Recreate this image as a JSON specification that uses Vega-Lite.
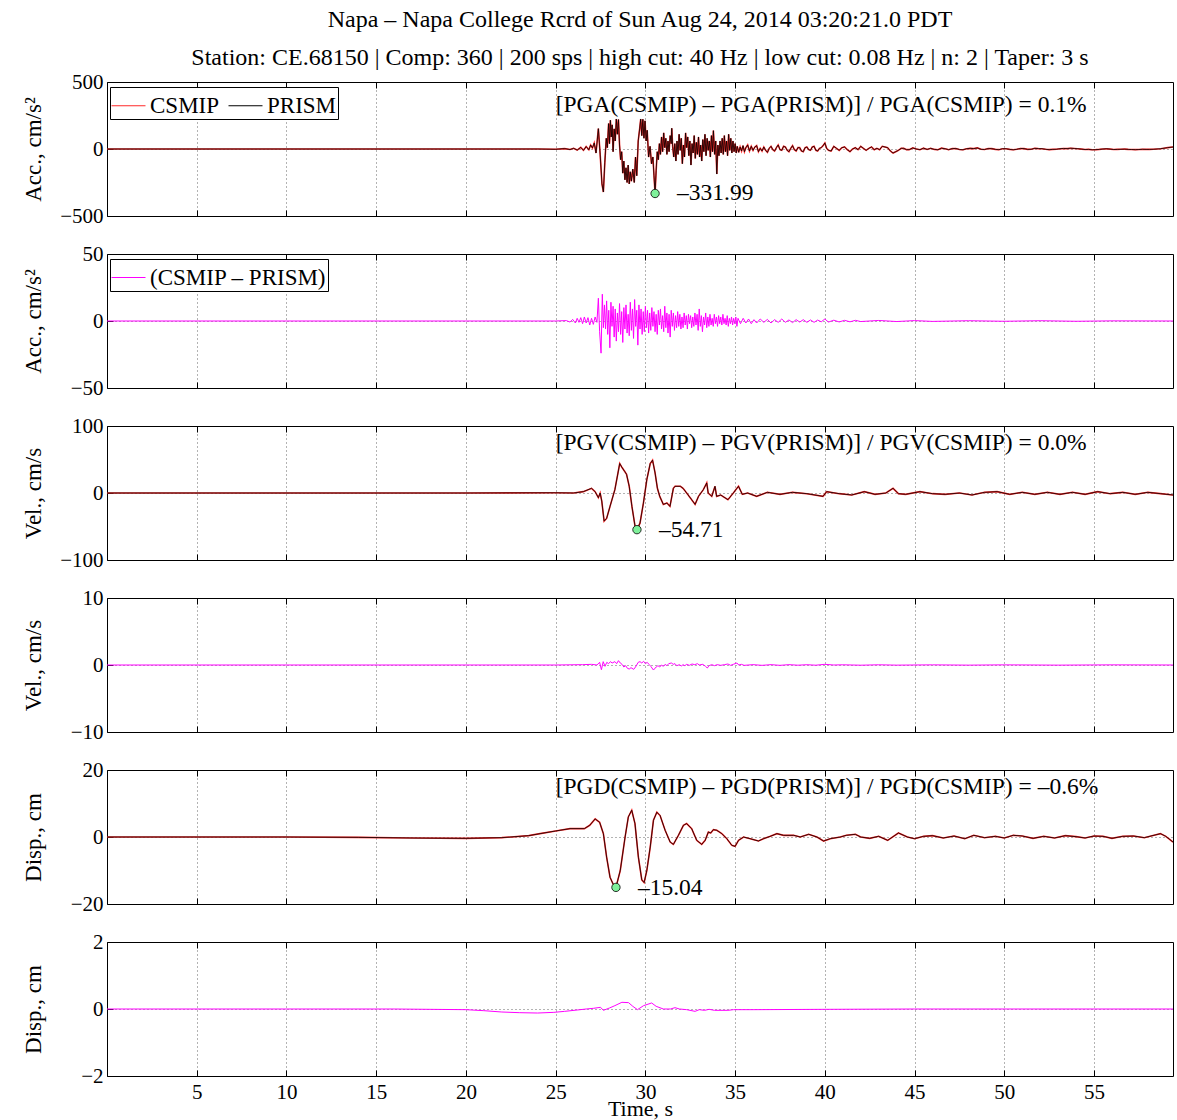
{
"$schema":"https://vega.github.io/schema/vega-lite/v6.json",
"padding":{"left":21,"top":7,"right":4,"bottom":2},
"spacing":38,
"bounds":"flush",
"resolve":{"scale":{"color":"independent","stroke":"independent"},"legend":{"color":"independent","stroke":"independent"}},
"config":{
 "font":"Liberation Serif",
 "view":{"stroke":"#000","strokeWidth":1},
 "axis":{"domain":false,"grid":true,"gridColor":"#000","gridDash":[1,3],"gridOpacity":0.6,"ticks":true,"tickColor":"#000","tickSize":-6,"tickWidth":1,"labelFont":"Liberation Serif","labelFontSize":21,"labelColor":"#000","labelPadding":10,"titleFont":"Liberation Serif","titleFontSize":23,"titleFontWeight":"normal","titleColor":"#000"},
 "axisY":{"titleX":-74,"titleY":67,"titleBaseline":"middle","labelPadding":10},
 "axisX":{"titleY":39,"titleBaseline":"alphabetic","titleFontSize":22,"labelPadding":11},
 "legend":{"title":null,"orient":"none","legendX":3,"legendY":5,"direction":"horizontal","padding":1,"strokeColor":"#000","fillColor":"#fff","labelFont":"Liberation Serif","labelFontSize":23,"labelColor":"#000","labelLimit":400,"symbolType":"stroke","symbolSize":1156,"symbolStrokeWidth":1,"columnPadding":6,"labelOffset":4,"cornerRadius":0},
 "text":{"font":"Liberation Serif","fontSize":23.5,"color":"#000"}
},
"datasets":{
"acc":[{"t":0,"v":0},{"t":10,"v":0},{"t":20,"v":0},{"t":24,"v":0},{"t":25,"v":-2},{"t":25.5,"v":3},{"t":25.8,"v":-4},{"t":26,"v":5},{"t":26.2,"v":-8},{"t":26.4,"v":12},{"t":26.55,"v":-10},{"t":26.7,"v":18},{"t":26.85,"v":-6},{"t":26.95,"v":30},{"t":27.05,"v":8},{"t":27.15,"v":45},{"t":27.25,"v":-30},{"t":27.38,"v":152},{"t":27.48,"v":-40},{"t":27.58,"v":-260},{"t":27.66,"v":-321},{"t":27.74,"v":-100},{"t":27.82,"v":80},{"t":27.88,"v":10},{"t":27.95,"v":190},{"t":28.0,"v":40},{"t":28.05,"v":215},{"t":28.1,"v":90},{"t":28.15,"v":180},{"t":28.2,"v":-20},{"t":28.26,"v":150},{"t":28.32,"v":60},{"t":28.38,"v":224},{"t":28.44,"v":110},{"t":28.5,"v":220},{"t":28.56,"v":30},{"t":28.62,"v":-80},{"t":28.68,"v":-20},{"t":28.74,"v":-180},{"t":28.8,"v":-90},{"t":28.86,"v":-230},{"t":28.92,"v":-140},{"t":28.98,"v":-250},{"t":29.04,"v":-120},{"t":29.1,"v":-260},{"t":29.16,"v":-170},{"t":29.22,"v":-240},{"t":29.3,"v":-150},{"t":29.38,"v":-250},{"t":29.45,"v":-60},{"t":29.52,"v":-200},{"t":29.6,"v":60},{"t":29.68,"v":150},{"t":29.74,"v":224},{"t":29.8,"v":100},{"t":29.86,"v":222},{"t":29.92,"v":80},{"t":29.98,"v":210},{"t":30.04,"v":60},{"t":30.1,"v":140},{"t":30.18,"v":-60},{"t":30.26,"v":20},{"t":30.34,"v":-110},{"t":30.42,"v":-60},{"t":30.48,"v":-200},{"t":30.54,"v":-332},{"t":30.6,"v":-160},{"t":30.66,"v":-20},{"t":30.72,"v":-80},{"t":30.78,"v":40},{"t":30.84,"v":-40},{"t":30.9,"v":90},{"t":30.96,"v":-20},{"t":31.02,"v":120},{"t":31.08,"v":10},{"t":31.14,"v":80},{"t":31.2,"v":-40},{"t":31.26,"v":60},{"t":31.32,"v":-20},{"t":31.38,"v":100},{"t":31.44,"v":40},{"t":31.47,"v":155},{"t":31.52,"v":20},{"t":31.58,"v":-60},{"t":31.64,"v":40},{"t":31.7,"v":-90},{"t":31.76,"v":60},{"t":31.82,"v":-40},{"t":31.88,"v":110},{"t":31.94,"v":-10},{"t":32.0,"v":80},{"t":32.06,"v":-110},{"t":32.12,"v":30},{"t":32.18,"v":-60},{"t":32.24,"v":120},{"t":32.3,"v":10},{"t":32.36,"v":90},{"t":32.42,"v":-50},{"t":32.48,"v":60},{"t":32.54,"v":-120},{"t":32.6,"v":40},{"t":32.66,"v":-30},{"t":32.72,"v":100},{"t":32.78,"v":-70},{"t":32.84,"v":50},{"t":32.9,"v":-40},{"t":32.96,"v":90},{"t":33.02,"v":-60},{"t":33.08,"v":30},{"t":33.14,"v":-90},{"t":33.2,"v":70},{"t":33.26,"v":-20},{"t":33.32,"v":110},{"t":33.38,"v":-50},{"t":33.44,"v":80},{"t":33.5,"v":-10},{"t":33.56,"v":60},{"t":33.62,"v":-60},{"t":33.68,"v":100},{"t":33.74,"v":-20},{"t":33.79,"v":137},{"t":33.86,"v":-40},{"t":33.92,"v":60},{"t":33.98,"v":-187},{"t":34.04,"v":30},{"t":34.1,"v":-50},{"t":34.16,"v":60},{"t":34.22,"v":-30},{"t":34.28,"v":80},{"t":34.34,"v":-40},{"t":34.4,"v":100},{"t":34.46,"v":-20},{"t":34.52,"v":60},{"t":34.58,"v":-50},{"t":34.64,"v":110},{"t":34.7,"v":-10},{"t":34.76,"v":80},{"t":34.82,"v":-30},{"t":34.88,"v":60},{"t":34.94,"v":-20},{"t":35.0,"v":40},{"t":35.06,"v":-30},{"t":35.12,"v":20},{"t":35.2,"v":-25},{"t":35.28,"v":15},{"t":35.36,"v":-15},{"t":35.44,"v":25},{"t":35.52,"v":-20},{"t":35.6,"v":10},{"t":35.7,"v":30},{"t":35.8,"v":-15},{"t":35.9,"v":20},{"t":36.0,"v":-10},{"t":36.1,"v":15},{"t":36.2,"v":25},{"t":36.3,"v":-20},{"t":36.4,"v":5},{"t":36.5,"v":-15},{"t":36.6,"v":15},{"t":36.7,"v":-10},{"t":36.8,"v":-25},{"t":36.9,"v":5},{"t":37.0,"v":20},{"t":37.1,"v":-5},{"t":37.2,"v":-15},{"t":37.3,"v":10},{"t":37.4,"v":30},{"t":37.5,"v":-5},{"t":37.6,"v":-10},{"t":37.7,"v":20},{"t":37.8,"v":15},{"t":37.9,"v":-10},{"t":38.0,"v":-20},{"t":38.1,"v":5},{"t":38.2,"v":25},{"t":38.3,"v":-5},{"t":38.4,"v":-15},{"t":38.5,"v":10},{"t":38.6,"v":10},{"t":38.7,"v":-15},{"t":38.8,"v":-20},{"t":38.9,"v":10},{"t":39.0,"v":15},{"t":39.1,"v":-5},{"t":39.2,"v":-10},{"t":39.3,"v":15},{"t":39.4,"v":20},{"t":39.5,"v":-10},{"t":39.6,"v":-15},{"t":39.7,"v":5},{"t":39.8,"v":10},{"t":39.9,"v":25},{"t":40.0,"v":45},{"t":40.1,"v":5},{"t":40.2,"v":-10},{"t":40.35,"v":-15},{"t":40.5,"v":20},{"t":40.65,"v":5},{"t":40.8,"v":-10},{"t":40.95,"v":10},{"t":41.1,"v":15},{"t":41.25,"v":-5},{"t":41.4,"v":-20},{"t":41.55,"v":0},{"t":41.7,"v":10},{"t":41.85,"v":-5},{"t":42.0,"v":20},{"t":42.15,"v":5},{"t":42.3,"v":-10},{"t":42.45,"v":5},{"t":42.6,"v":15},{"t":42.75,"v":-5},{"t":42.9,"v":5},{"t":43.05,"v":-5},{"t":43.2,"v":20},{"t":43.35,"v":15},{"t":43.5,"v":10},{"t":43.65,"v":-15},{"t":43.8,"v":-30},{"t":43.95,"v":-20},{"t":44.1,"v":-10},{"t":44.25,"v":5},{"t":44.4,"v":5},{"t":44.55,"v":-5},{"t":44.7,"v":-5},{"t":44.9,"v":8},{"t":45.1,"v":0},{"t":45.3,"v":-5},{"t":45.5,"v":6},{"t":45.7,"v":-3},{"t":45.9,"v":5},{"t":46.1,"v":-3},{"t":46.3,"v":-6},{"t":46.5,"v":6},{"t":46.7,"v":2},{"t":46.9,"v":-5},{"t":47.1,"v":3},{"t":47.3,"v":4},{"t":47.5,"v":-4},{"t":47.7,"v":-6},{"t":47.9,"v":2},{"t":48.1,"v":5},{"t":48.3,"v":3},{"t":48.5,"v":8},{"t":48.7,"v":-2},{"t":48.9,"v":-4},{"t":49.1,"v":3},{"t":49.3,"v":3},{"t":49.5,"v":-3},{"t":49.7,"v":-5},{"t":49.9,"v":2},{"t":50.1,"v":2},{"t":50.3,"v":-3},{"t":50.5,"v":-6},{"t":50.7,"v":-2},{"t":50.9,"v":4},{"t":51.1,"v":3},{"t":51.3,"v":-3},{"t":51.5,"v":-2},{"t":51.7,"v":5},{"t":51.9,"v":3},{"t":52.1,"v":2},{"t":52.3,"v":-2},{"t":52.5,"v":-5},{"t":52.7,"v":-3},{"t":52.9,"v":-2},{"t":53.1,"v":2},{"t":53.3,"v":4},{"t":53.5,"v":3},{"t":53.7,"v":6},{"t":53.9,"v":4},{"t":54.1,"v":2},{"t":54.3,"v":-1},{"t":54.5,"v":-4},{"t":54.7,"v":-3},{"t":54.9,"v":-6},{"t":55.1,"v":-5},{"t":55.3,"v":-3},{"t":55.5,"v":0},{"t":55.7,"v":2},{"t":55.9,"v":-1},{"t":56.1,"v":-4},{"t":56.3,"v":-3},{"t":56.5,"v":-2},{"t":56.7,"v":-1},{"t":56.9,"v":-3},{"t":57.1,"v":-4},{"t":57.3,"v":-5},{"t":57.5,"v":-4},{"t":57.7,"v":-2},{"t":57.9,"v":-3},{"t":58.1,"v":-3},{"t":58.3,"v":-2},{"t":58.5,"v":0},{"t":58.7,"v":2},{"t":58.9,"v":6},{"t":59.1,"v":10},{"t":59.4,"v":15}],
"dacc":[{"t":0,"v":0},{"t":10,"v":0},{"t":20,"v":0},{"t":25,"v":0},{"t":25.6,"v":0.3},{"t":25.8,"v":-0.8},{"t":25.95,"v":1.2},{"t":26.1,"v":-1.5},{"t":26.2,"v":2},{"t":26.3,"v":-1},{"t":26.4,"v":2.5},{"t":26.5,"v":-2},{"t":26.6,"v":3},{"t":26.7,"v":-1.5},{"t":26.8,"v":2.5},{"t":26.9,"v":-3},{"t":27.0,"v":2},{"t":27.1,"v":-2.5},{"t":27.2,"v":3},{"t":27.3,"v":-1},{"t":27.38,"v":17},{"t":27.45,"v":-8},{"t":27.53,"v":-24},{"t":27.6,"v":20},{"t":27.66,"v":-5},{"t":27.72,"v":12},{"t":27.78,"v":-6},{"t":27.84,"v":15},{"t":27.9,"v":-10},{"t":27.96,"v":8},{"t":28.02,"v":-20},{"t":28.08,"v":14},{"t":28.14,"v":-4},{"t":28.2,"v":11},{"t":28.26,"v":-12},{"t":28.32,"v":9},{"t":28.38,"v":-15},{"t":28.44,"v":6},{"t":28.5,"v":-8},{"t":28.56,"v":13},{"t":28.62,"v":-10},{"t":28.68,"v":7},{"t":28.74,"v":-16},{"t":28.8,"v":10},{"t":28.86,"v":-6},{"t":28.92,"v":12},{"t":28.98,"v":-9},{"t":29.04,"v":5},{"t":29.1,"v":-11},{"t":29.16,"v":14},{"t":29.22,"v":-7},{"t":29.28,"v":9},{"t":29.34,"v":-13},{"t":29.4,"v":16},{"t":29.46,"v":-4},{"t":29.52,"v":8},{"t":29.58,"v":-18},{"t":29.64,"v":12},{"t":29.7,"v":-6},{"t":29.76,"v":9},{"t":29.82,"v":-10},{"t":29.88,"v":7},{"t":29.94,"v":-8},{"t":30.0,"v":11},{"t":30.06,"v":-5},{"t":30.12,"v":8},{"t":30.18,"v":-9},{"t":30.24,"v":6},{"t":30.3,"v":-7},{"t":30.36,"v":10},{"t":30.42,"v":-4},{"t":30.48,"v":7},{"t":30.54,"v":-8},{"t":30.6,"v":5},{"t":30.66,"v":-10},{"t":30.72,"v":8},{"t":30.78,"v":-3},{"t":30.84,"v":9},{"t":30.9,"v":-6},{"t":30.96,"v":4},{"t":31.02,"v":-8},{"t":31.08,"v":11},{"t":31.14,"v":-5},{"t":31.2,"v":6},{"t":31.26,"v":-9},{"t":31.32,"v":5},{"t":31.38,"v":-12},{"t":31.44,"v":8},{"t":31.5,"v":-4},{"t":31.56,"v":6},{"t":31.62,"v":-7},{"t":31.68,"v":4},{"t":31.74,"v":-5},{"t":31.8,"v":7},{"t":31.86,"v":-4},{"t":31.92,"v":5},{"t":31.98,"v":-6},{"t":32.04,"v":3},{"t":32.1,"v":-5},{"t":32.16,"v":6},{"t":32.22,"v":-3},{"t":32.28,"v":4},{"t":32.34,"v":-6},{"t":32.4,"v":5},{"t":32.46,"v":-2},{"t":32.52,"v":4},{"t":32.58,"v":-5},{"t":32.64,"v":3},{"t":32.7,"v":-4},{"t":32.76,"v":6},{"t":32.82,"v":-3},{"t":32.88,"v":5},{"t":32.94,"v":-7},{"t":33.0,"v":9},{"t":33.06,"v":-4},{"t":33.12,"v":4},{"t":33.18,"v":-8},{"t":33.24,"v":3},{"t":33.3,"v":-3},{"t":33.36,"v":6},{"t":33.42,"v":-5},{"t":33.48,"v":3},{"t":33.54,"v":-4},{"t":33.6,"v":5},{"t":33.66,"v":-3},{"t":33.72,"v":2},{"t":33.78,"v":-4},{"t":33.84,"v":5},{"t":33.9,"v":-2},{"t":33.96,"v":3},{"t":34.02,"v":-4},{"t":34.08,"v":4},{"t":34.14,"v":-2},{"t":34.2,"v":3},{"t":34.26,"v":-3},{"t":34.32,"v":5},{"t":34.38,"v":-2},{"t":34.44,"v":2},{"t":34.5,"v":-3},{"t":34.56,"v":4},{"t":34.62,"v":-4},{"t":34.68,"v":2},{"t":34.74,"v":-2},{"t":34.8,"v":3},{"t":34.86,"v":-3},{"t":34.92,"v":2},{"t":34.98,"v":-2},{"t":35.04,"v":3},{"t":35.1,"v":-4},{"t":35.16,"v":2},{"t":35.3,"v":-2},{"t":35.45,"v":2},{"t":35.6,"v":-1.5},{"t":35.75,"v":1.5},{"t":35.9,"v":-2},{"t":36.05,"v":1},{"t":36.2,"v":-1.5},{"t":36.4,"v":1.5},{"t":36.6,"v":-1},{"t":36.8,"v":1.2},{"t":37.0,"v":-1.5},{"t":37.2,"v":1},{"t":37.4,"v":-1},{"t":37.6,"v":1.5},{"t":37.8,"v":-1},{"t":38.0,"v":0.8},{"t":38.2,"v":-1.2},{"t":38.4,"v":1},{"t":38.6,"v":-0.8},{"t":38.8,"v":1},{"t":39.0,"v":-1},{"t":39.2,"v":0.8},{"t":39.4,"v":-1},{"t":39.6,"v":0.7},{"t":39.8,"v":-0.6},{"t":40.0,"v":1.5},{"t":40.2,"v":-0.8},{"t":40.5,"v":0.6},{"t":40.8,"v":-0.7},{"t":41.1,"v":0.5},{"t":41.4,"v":-0.6},{"t":41.7,"v":0.5},{"t":42,"v":-0.4},{"t":43,"v":0.4},{"t":44,"v":-0.4},{"t":45,"v":0.3},{"t":46,"v":-0.3},{"t":48,"v":0.2},{"t":50,"v":-0.2},{"t":52,"v":0.2},{"t":54,"v":-0.2},{"t":56,"v":0.1},{"t":59.4,"v":0}],
"vel":[{"t":0,"v":0},{"t":20,"v":0},{"t":25,"v":0.3},{"t":26,"v":0},{"t":26.54,"v":2},{"t":27.0,"v":7},{"t":27.2,"v":2},{"t":27.38,"v":-7},{"t":27.48,"v":0},{"t":27.57,"v":-12},{"t":27.7,"v":-42},{"t":27.84,"v":-38},{"t":28.03,"v":-20},{"t":28.3,"v":5},{"t":28.57,"v":44},{"t":28.7,"v":38},{"t":28.85,"v":32},{"t":28.95,"v":28},{"t":29.1,"v":10},{"t":29.25,"v":-20},{"t":29.42,"v":-49},{"t":29.53,"v":-54.71},{"t":29.7,"v":-45},{"t":29.89,"v":-15},{"t":30.08,"v":20},{"t":30.27,"v":44},{"t":30.4,"v":49},{"t":30.54,"v":30},{"t":30.67,"v":7},{"t":30.8,"v":-5},{"t":31.0,"v":-17},{"t":31.2,"v":-15},{"t":31.37,"v":-20},{"t":31.56,"v":7},{"t":31.65,"v":10},{"t":31.95,"v":10},{"t":32.1,"v":7},{"t":32.3,"v":0},{"t":32.58,"v":-10},{"t":32.77,"v":-17},{"t":32.96,"v":-5},{"t":33.23,"v":5},{"t":33.42,"v":15},{"t":33.5,"v":0},{"t":33.7,"v":-5},{"t":33.88,"v":10},{"t":33.97,"v":-5},{"t":34.2,"v":-3},{"t":34.6,"v":-10},{"t":34.9,"v":0},{"t":35.1,"v":7},{"t":35.19,"v":10},{"t":35.4,"v":-2},{"t":35.7,"v":0},{"t":36.2,"v":-5},{"t":36.8,"v":1},{"t":37.5,"v":-2},{"t":38.2,"v":1},{"t":39.0,"v":-1},{"t":39.9,"v":-5},{"t":40.1,"v":2},{"t":40.8,"v":-1},{"t":41.5,"v":-3},{"t":42.2,"v":2},{"t":42.8,"v":-2},{"t":43.4,"v":0},{"t":43.8,"v":7},{"t":44.1,"v":-1},{"t":44.5,"v":-2},{"t":45.3,"v":2},{"t":46.0,"v":-1},{"t":46.7,"v":-2},{"t":47.5,"v":0},{"t":48.2,"v":-3},{"t":48.9,"v":1},{"t":49.6,"v":2},{"t":50.3,"v":-2},{"t":51.0,"v":1},{"t":51.7,"v":-2},{"t":52.4,"v":1},{"t":53.1,"v":-2},{"t":53.8,"v":1},{"t":54.5,"v":-2},{"t":55.2,"v":2},{"t":55.9,"v":-1},{"t":56.6,"v":1},{"t":57.3,"v":-2},{"t":58.0,"v":1},{"t":58.7,"v":-1},{"t":59.4,"v":-3}],
"dvel":[{"t":0,"v":0},{"t":25,"v":0},{"t":26.5,"v":0.05},{"t":27.0,"v":0.1},{"t":27.3,"v":0},{"t":27.45,"v":0.4},{"t":27.55,"v":-0.7},{"t":27.65,"v":0.5},{"t":27.75,"v":-0.2},{"t":27.85,"v":0.4},{"t":27.95,"v":0.2},{"t":28.05,"v":0.5},{"t":28.15,"v":0.3},{"t":28.3,"v":0.5},{"t":28.4,"v":0.2},{"t":28.5,"v":0.65},{"t":28.6,"v":0.3},{"t":28.7,"v":0.1},{"t":28.8,"v":-0.3},{"t":28.9,"v":-0.1},{"t":29.0,"v":-0.5},{"t":29.1,"v":-0.6},{"t":29.2,"v":-0.4},{"t":29.35,"v":-0.65},{"t":29.45,"v":-0.3},{"t":29.6,"v":0.4},{"t":29.7,"v":0.5},{"t":29.8,"v":0.3},{"t":29.9,"v":0.55},{"t":30.0,"v":0.2},{"t":30.1,"v":0.4},{"t":30.2,"v":0.1},{"t":30.3,"v":-0.2},{"t":30.45,"v":-0.75},{"t":30.6,"v":-0.3},{"t":30.7,"v":-0.1},{"t":30.8,"v":-0.3},{"t":30.9,"v":0},{"t":31.0,"v":-0.2},{"t":31.1,"v":0.1},{"t":31.2,"v":-0.1},{"t":31.3,"v":0.2},{"t":31.45,"v":0.3},{"t":31.55,"v":0.1},{"t":31.65,"v":0.2},{"t":31.75,"v":-0.1},{"t":31.9,"v":0.05},{"t":32.0,"v":-0.15},{"t":32.1,"v":0.05},{"t":32.2,"v":-0.1},{"t":32.3,"v":0.1},{"t":32.45,"v":-0.05},{"t":32.6,"v":0.15},{"t":32.75,"v":0.05},{"t":32.9,"v":0.2},{"t":33.0,"v":0},{"t":33.2,"v":0.1},{"t":33.35,"v":-0.2},{"t":33.45,"v":-0.45},{"t":33.55,"v":-0.1},{"t":33.7,"v":0.05},{"t":33.85,"v":-0.1},{"t":34.0,"v":0.05},{"t":34.2,"v":-0.05},{"t":34.4,"v":0.05},{"t":34.6,"v":0.15},{"t":34.75,"v":-0.05},{"t":34.9,"v":0.1},{"t":35.1,"v":0.3},{"t":35.2,"v":0},{"t":35.35,"v":0.1},{"t":35.5,"v":-0.05},{"t":36,"v":0.05},{"t":36.5,"v":-0.05},{"t":37,"v":0.05},{"t":37.5,"v":-0.05},{"t":38,"v":0.05},{"t":38.5,"v":-0.03},{"t":39,"v":0.04},{"t":39.5,"v":-0.03},{"t":40,"v":0.1},{"t":40.5,"v":0},{"t":41,"v":0.03},{"t":42,"v":-0.03},{"t":43,"v":0.03},{"t":44,"v":-0.02},{"t":46,"v":0.02},{"t":48,"v":-0.02},{"t":50,"v":0.02},{"t":53,"v":-0.02},{"t":56,"v":0.02},{"t":59.4,"v":0}],
"disp":[{"t":0,"v":0},{"t":5,"v":0},{"t":10,"v":0},{"t":14,"v":-0.1},{"t":17,"v":-0.3},{"t":20,"v":-0.4},{"t":22,"v":-0.2},{"t":23.5,"v":0.4},{"t":24.13,"v":1},{"t":25,"v":1.8},{"t":25.8,"v":2.5},{"t":26.6,"v":2.5},{"t":26.9,"v":3.5},{"t":27.2,"v":5.4},{"t":27.45,"v":4.4},{"t":27.66,"v":1},{"t":27.84,"v":-6},{"t":28.03,"v":-12},{"t":28.22,"v":-14.3},{"t":28.36,"v":-15.04},{"t":28.6,"v":-10},{"t":28.87,"v":0},{"t":29.05,"v":6},{"t":29.24,"v":8},{"t":29.42,"v":4},{"t":29.61,"v":-6},{"t":29.8,"v":-12.8},{"t":29.93,"v":-13.6},{"t":30.08,"v":-10},{"t":30.27,"v":-3},{"t":30.45,"v":5},{"t":30.64,"v":7.4},{"t":30.82,"v":6.4},{"t":31.1,"v":2},{"t":31.38,"v":-1.5},{"t":31.56,"v":-2.2},{"t":31.84,"v":0.5},{"t":32.12,"v":3.5},{"t":32.3,"v":4},{"t":32.58,"v":2.5},{"t":32.86,"v":-1},{"t":33.14,"v":-2.2},{"t":33.33,"v":-1},{"t":33.51,"v":1.5},{"t":33.64,"v":1.2},{"t":33.79,"v":2.2},{"t":33.98,"v":2},{"t":34.26,"v":1},{"t":34.54,"v":-0.5},{"t":34.82,"v":-2.5},{"t":35.0,"v":-2.8},{"t":35.19,"v":-1},{"t":35.47,"v":0},{"t":35.84,"v":-0.5},{"t":36.3,"v":-1.2},{"t":36.58,"v":-0.5},{"t":36.96,"v":0.2},{"t":37.33,"v":1},{"t":37.7,"v":0.5},{"t":38.26,"v":0.5},{"t":38.63,"v":0},{"t":39.1,"v":0.8},{"t":39.56,"v":0},{"t":39.93,"v":-1.2},{"t":40.3,"v":-0.5},{"t":40.86,"v":0},{"t":41.2,"v":0.5},{"t":41.7,"v":0.8},{"t":42.0,"v":0},{"t":42.5,"v":-0.4},{"t":43.0,"v":0.2},{"t":43.5,"v":-1},{"t":44.1,"v":1.2},{"t":44.6,"v":0},{"t":45.0,"v":-0.5},{"t":45.5,"v":0.2},{"t":46.0,"v":0.4},{"t":46.6,"v":-0.3},{"t":47.2,"v":0.3},{"t":47.8,"v":-0.5},{"t":48.3,"v":0.5},{"t":48.9,"v":-0.2},{"t":49.5,"v":0.2},{"t":50.0,"v":-0.3},{"t":50.5,"v":0.5},{"t":51.0,"v":0.3},{"t":51.6,"v":-0.4},{"t":52.2,"v":0.2},{"t":52.8,"v":-0.3},{"t":53.4,"v":0.4},{"t":54.0,"v":0.1},{"t":54.5,"v":-0.3},{"t":55.0,"v":0.3},{"t":55.5,"v":0.2},{"t":56.0,"v":-0.4},{"t":56.6,"v":0.2},{"t":57.2,"v":0.3},{"t":57.8,"v":-0.2},{"t":58.4,"v":0.6},{"t":58.7,"v":1},{"t":59.0,"v":0.2},{"t":59.4,"v":-1.5}],
"ddisp":[{"t":0,"v":0},{"t":10,"v":0},{"t":16,"v":0},{"t":18,"v":-0.01},{"t":20,"v":-0.02},{"t":21,"v":-0.05},{"t":22,"v":-0.09},{"t":23,"v":-0.11},{"t":24,"v":-0.12},{"t":24.9,"v":-0.1},{"t":25.5,"v":-0.07},{"t":26.2,"v":-0.03},{"t":26.7,"v":0},{"t":27.1,"v":0.02},{"t":27.5,"v":0.05},{"t":27.66,"v":-0.04},{"t":28.0,"v":0.03},{"t":28.3,"v":0.1},{"t":28.69,"v":0.2},{"t":29.06,"v":0.19},{"t":29.3,"v":0.08},{"t":29.56,"v":-0.02},{"t":29.9,"v":0.1},{"t":30.35,"v":0.18},{"t":30.6,"v":0.08},{"t":31.0,"v":0},{"t":31.4,"v":0},{"t":31.65,"v":0.04},{"t":31.9,"v":0},{"t":32.3,"v":-0.02},{"t":32.77,"v":-0.07},{"t":33.0,"v":-0.02},{"t":33.3,"v":-0.04},{"t":33.55,"v":-0.01},{"t":33.85,"v":-0.04},{"t":34.6,"v":-0.04},{"t":34.91,"v":-0.02},{"t":36,"v":-0.02},{"t":40,"v":-0.01},{"t":45,"v":0},{"t":59.4,"v":0}]
},
"vconcat":[
{"width":1066,"height":134,
 "title":{"text":["Napa – Napa College Rcrd of Sun Aug 24, 2014 03:20:21.0 PDT","Station: CE.68150 | Comp: 360 | 200 sps | high cut: 40 Hz | low cut: 0.08 Hz | n: 2 | Taper: 3 s"],"font":"Liberation Serif","fontSize":24,"fontWeight":"normal","color":"#000","lineHeight":38,"offset":1,"anchor":"middle","frame":"group"},
 "resolve":{"axis":{"x":"independent"}},
 "encoding":{
  "x":{"field":"t","type":"quantitative","scale":{"domain":[0,59.4],"nice":false,"zero":false},"axis":null},
  "y":{"field":"v","type":"quantitative","scale":{"domain":[-500,500],"nice":false},"axis":{"values":[-500,0,500],"title":"Acc., cm/s²"}}},
 "layer":[
  {"data":{"values":[]},"mark":{"type":"point"},"encoding":{"x":{"field":"t","type":"quantitative","scale":{"domain":[0,59.4],"nice":false,"zero":false},"axis":{"values":[5,10,15,20,25,30,35,40,45,50,55],"labels":false,"title":null}}}},
  {"data":{"values":[]},"mark":{"type":"point"},"encoding":{"x":{"field":"t","type":"quantitative","scale":{"domain":[0,59.4],"nice":false,"zero":false},"axis":{"orient":"top","values":[5,10,15,20,25,30,35,40,45,50,55],"labels":false,"title":null,"grid":false}}}},
  {"data":{"name":"acc"},"mark":{"type":"line","strokeWidth":1.6,"clip":true},"encoding":{"color":{"datum":"CSMIP","type":"nominal","scale":{"domain":["CSMIP","PRISM"],"range":["#ff2a2a","#000000"]}}}},
  {"data":{"name":"acc"},"mark":{"type":"line","strokeWidth":0.8,"clip":true},"encoding":{"color":{"datum":"PRISM","type":"nominal"}}},
  {"data":{"values":[{"t":25,"v":328,"label":"[PGA(CSMIP) – PGA(PRISM)] / PGA(CSMIP) = 0.1%"}]},"mark":{"type":"text","align":"left","baseline":"middle"},"encoding":{"text":{"field":"label"}}},
  {"data":{"values":[{"t":30.54,"v":-331.99,"label":"–331.99"}]},"mark":{"type":"point","filled":true,"fill":"#7ff09a","stroke":"#000","strokeWidth":0.8,"size":70,"opacity":1}},
  {"data":{"values":[{"t":30.54,"v":-331.99,"label":"–331.99"}]},"mark":{"type":"text","align":"left","baseline":"middle","dx":22},"encoding":{"text":{"field":"label"}}}
 ]},
{"width":1066,"height":134,
 "resolve":{"axis":{"x":"independent"}},
 "encoding":{
  "x":{"field":"t","type":"quantitative","scale":{"domain":[0,59.4],"nice":false,"zero":false},"axis":null},
  "y":{"field":"v","type":"quantitative","scale":{"domain":[-50,50],"nice":false},"axis":{"values":[-50,0,50],"title":"Acc., cm/s²"}}},
 "layer":[
  {"data":{"values":[]},"mark":{"type":"point"},"encoding":{"x":{"field":"t","type":"quantitative","scale":{"domain":[0,59.4],"nice":false,"zero":false},"axis":{"values":[5,10,15,20,25,30,35,40,45,50,55],"labels":false,"title":null}}}},
  {"data":{"values":[]},"mark":{"type":"point"},"encoding":{"x":{"field":"t","type":"quantitative","scale":{"domain":[0,59.4],"nice":false,"zero":false},"axis":{"orient":"top","values":[5,10,15,20,25,30,35,40,45,50,55],"labels":false,"title":null,"grid":false}}}},
  {"data":{"name":"dacc"},"mark":{"type":"line","strokeWidth":1,"clip":true},"encoding":{"stroke":{"datum":"(CSMIP – PRISM)","type":"nominal","scale":{"domain":["(CSMIP – PRISM)"],"range":["#ff00ff"]},"legend":{"symbolStrokeColor":"#ff00ff","symbolStrokeWidth":1}}}}
 ]},
{"width":1066,"height":134,
 "resolve":{"axis":{"x":"independent"}},
 "encoding":{
  "x":{"field":"t","type":"quantitative","scale":{"domain":[0,59.4],"nice":false,"zero":false},"axis":null},
  "y":{"field":"v","type":"quantitative","scale":{"domain":[-100,100],"nice":false},"axis":{"values":[-100,0,100],"title":"Vel., cm/s"}}},
 "layer":[
  {"data":{"values":[]},"mark":{"type":"point"},"encoding":{"x":{"field":"t","type":"quantitative","scale":{"domain":[0,59.4],"nice":false,"zero":false},"axis":{"values":[5,10,15,20,25,30,35,40,45,50,55],"labels":false,"title":null}}}},
  {"data":{"values":[]},"mark":{"type":"point"},"encoding":{"x":{"field":"t","type":"quantitative","scale":{"domain":[0,59.4],"nice":false,"zero":false},"axis":{"orient":"top","values":[5,10,15,20,25,30,35,40,45,50,55],"labels":false,"title":null,"grid":false}}}},
  {"data":{"name":"vel"},"mark":{"type":"line","strokeWidth":1.6,"color":"#ff2a2a","clip":true}},
  {"data":{"name":"vel"},"mark":{"type":"line","strokeWidth":0.8,"color":"#000","clip":true}},
  {"data":{"values":[{"t":25,"v":74,"label":"[PGV(CSMIP) – PGV(PRISM)] / PGV(CSMIP) = 0.0%"}]},"mark":{"type":"text","align":"left","baseline":"middle"},"encoding":{"text":{"field":"label"}}},
  {"data":{"values":[{"t":29.53,"v":-54.71,"label":"–54.71"}]},"mark":{"type":"point","filled":true,"fill":"#7ff09a","stroke":"#000","strokeWidth":0.8,"size":70,"opacity":1}},
  {"data":{"values":[{"t":29.53,"v":-54.71,"label":"–54.71"}]},"mark":{"type":"text","align":"left","baseline":"middle","dx":22},"encoding":{"text":{"field":"label"}}}
 ]},
{"width":1066,"height":134,
 "resolve":{"axis":{"x":"independent"}},
 "encoding":{
  "x":{"field":"t","type":"quantitative","scale":{"domain":[0,59.4],"nice":false,"zero":false},"axis":null},
  "y":{"field":"v","type":"quantitative","scale":{"domain":[-10,10],"nice":false},"axis":{"values":[-10,0,10],"title":"Vel., cm/s"}}},
 "layer":[
  {"data":{"values":[]},"mark":{"type":"point"},"encoding":{"x":{"field":"t","type":"quantitative","scale":{"domain":[0,59.4],"nice":false,"zero":false},"axis":{"values":[5,10,15,20,25,30,35,40,45,50,55],"labels":false,"title":null}}}},
  {"data":{"values":[]},"mark":{"type":"point"},"encoding":{"x":{"field":"t","type":"quantitative","scale":{"domain":[0,59.4],"nice":false,"zero":false},"axis":{"orient":"top","values":[5,10,15,20,25,30,35,40,45,50,55],"labels":false,"title":null,"grid":false}}}},
  {"data":{"name":"dvel"},"mark":{"type":"line","strokeWidth":1,"color":"#ff00ff","clip":true}}
 ]},
{"width":1066,"height":134,
 "resolve":{"axis":{"x":"independent"}},
 "encoding":{
  "x":{"field":"t","type":"quantitative","scale":{"domain":[0,59.4],"nice":false,"zero":false},"axis":null},
  "y":{"field":"v","type":"quantitative","scale":{"domain":[-20,20],"nice":false},"axis":{"values":[-20,0,20],"title":"Disp., cm"}}},
 "layer":[
  {"data":{"values":[]},"mark":{"type":"point"},"encoding":{"x":{"field":"t","type":"quantitative","scale":{"domain":[0,59.4],"nice":false,"zero":false},"axis":{"values":[5,10,15,20,25,30,35,40,45,50,55],"labels":false,"title":null}}}},
  {"data":{"values":[]},"mark":{"type":"point"},"encoding":{"x":{"field":"t","type":"quantitative","scale":{"domain":[0,59.4],"nice":false,"zero":false},"axis":{"orient":"top","values":[5,10,15,20,25,30,35,40,45,50,55],"labels":false,"title":null,"grid":false}}}},
  {"data":{"name":"disp"},"mark":{"type":"line","strokeWidth":1.6,"color":"#ff2a2a","clip":true}},
  {"data":{"name":"disp"},"mark":{"type":"line","strokeWidth":0.8,"color":"#000","clip":true}},
  {"data":{"values":[{"t":25,"v":15,"label":"[PGD(CSMIP) – PGD(PRISM)] / PGD(CSMIP) = –0.6%"}]},"mark":{"type":"text","align":"left","baseline":"middle"},"encoding":{"text":{"field":"label"}}},
  {"data":{"values":[{"t":28.36,"v":-15.04,"label":"–15.04"}]},"mark":{"type":"point","filled":true,"fill":"#7ff09a","stroke":"#000","strokeWidth":0.8,"size":70,"opacity":1}},
  {"data":{"values":[{"t":28.36,"v":-15.04,"label":"–15.04"}]},"mark":{"type":"text","align":"left","baseline":"middle","dx":22,"dy":1},"encoding":{"text":{"field":"label"}}}
 ]},
{"width":1066,"height":134,
 "resolve":{"axis":{"x":"independent"}},
 "encoding":{
  "x":{"field":"t","type":"quantitative","scale":{"domain":[0,59.4],"nice":false,"zero":false},"axis":null},
  "y":{"field":"v","type":"quantitative","scale":{"domain":[-2,2],"nice":false},"axis":{"values":[-2,0,2],"title":"Disp., cm"}}},
 "layer":[
  {"data":{"values":[]},"mark":{"type":"point"},"encoding":{"x":{"field":"t","type":"quantitative","scale":{"domain":[0,59.4],"nice":false,"zero":false},"axis":{"values":[5,10,15,20,25,30,35,40,45,50,55],"labels":true,"title":"Time, s"}}}},
  {"data":{"values":[]},"mark":{"type":"point"},"encoding":{"x":{"field":"t","type":"quantitative","scale":{"domain":[0,59.4],"nice":false,"zero":false},"axis":{"orient":"top","values":[5,10,15,20,25,30,35,40,45,50,55],"labels":false,"title":null,"grid":false}}}},
  {"data":{"name":"ddisp"},"mark":{"type":"line","strokeWidth":1,"color":"#ff00ff","clip":true}}
 ]}
]
}
